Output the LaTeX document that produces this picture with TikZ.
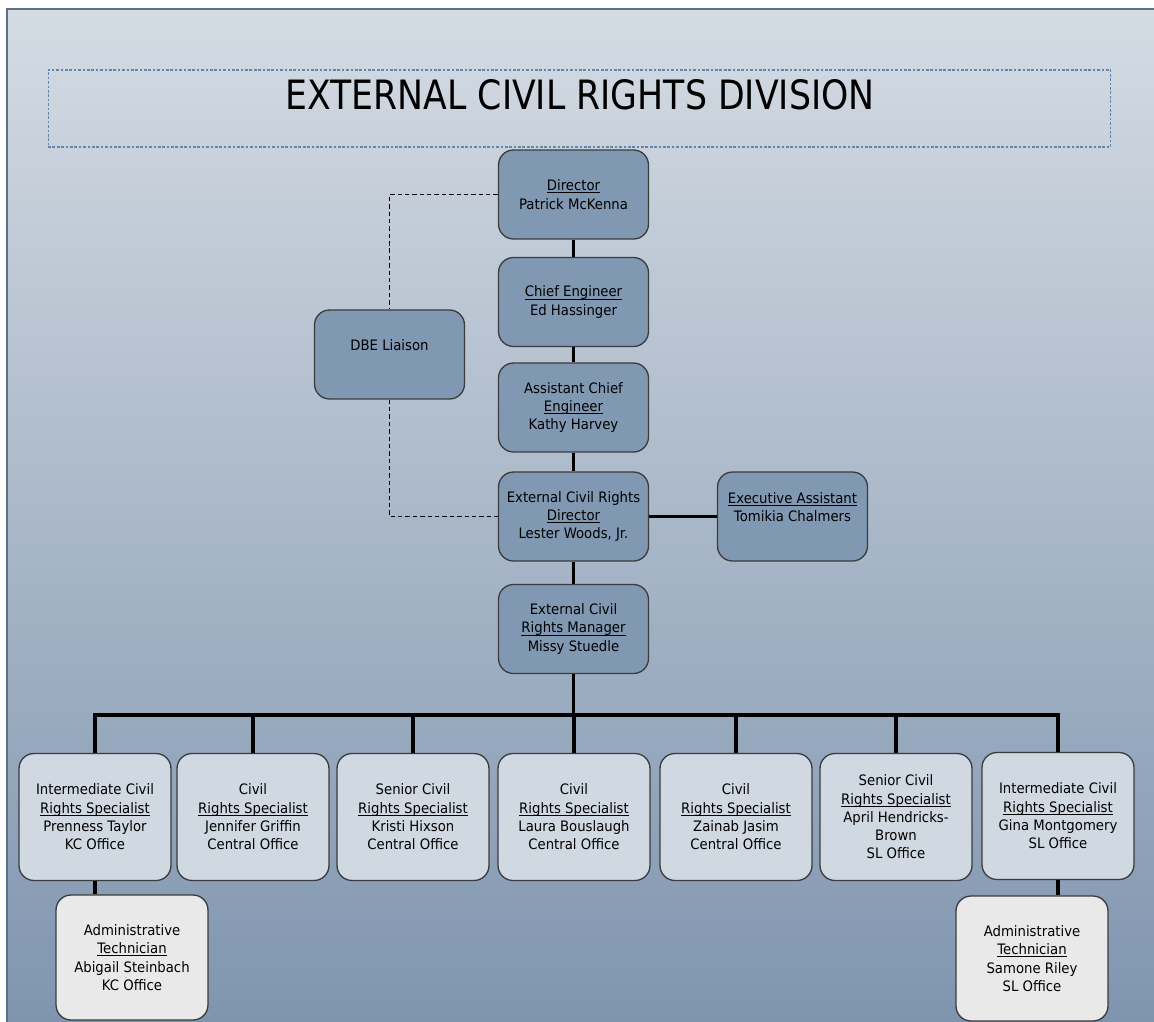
\documentclass[tikz,border=0pt]{standalone}
\usepackage{fontspec}
\setmainfont{DejaVu Sans}[FakeStretch=0.92]
\newfontfamily\titlefont{DejaVu Sans}
\usepackage{graphicx}

\definecolor{bgtop}{HTML}{D4DBE3}
\definecolor{bgmid}{HTML}{B3C0CF}
\definecolor{bgbot}{HTML}{7F95AF}
\definecolor{framecol}{HTML}{5D7286}
\definecolor{titleline}{HTML}{6286AE}
\definecolor{boxline}{HTML}{3C3C3C}
\definecolor{topfill}{HTML}{8098B2}
\definecolor{stafffill}{HTML}{D0D8E1}
\definecolor{adminfill}{HTML}{E9E9E9}

\newcommand\boxfont{\fontsize{8.2}{10.4}\selectfont}
\newcommand\ul[1]{\setbox0\hbox{#1}\rlap{\rule[-1.5pt]{\wd0}{0.55pt}}\box0}

\tikzset{
  box/.style={draw=boxline, line width=0.75pt, rounded corners=0.3cm,
    align=center, font=\boxfont, minimum width=3cm, inner sep=1pt},
  topbox/.style={box, fill=topfill, minimum height=1.78cm},
  staffbox/.style={box, fill=stafffill, minimum width=3.04cm, minimum height=2.54cm},
  adminbox/.style={box, fill=adminfill, minimum width=3.04cm, minimum height=2.5cm},
  titlebox/.style={draw=titleline, line width=0.6pt, dash pattern=on 1.5pt off 1pt,
    minimum width=21.26cm, minimum height=1.54cm, inner sep=0pt},
  link/.style={line width=2pt},
  dotlink/.style={dash pattern=on 2.5pt off 1.7pt, line width=0.55pt}
}

\begin{document}
\begin{tikzpicture}[x=0.02cm, y=-0.02cm]
  % Page and background
  \useasboundingbox (0,0) rectangle (1154,1022);
  \shade[top color=bgtop, middle color=bgmid, bottom color=bgbot] (7,9) rectangle (1154,1022);
  \draw[framecol, line width=0.9pt] (7,1022) -- (7,9) -- (1154,9);

  % Title
  \node[titlebox] (title) at (579.5,108.5) {};
  \node[inner sep=0pt] (titletext) at (580,95)
    {\resizebox{11.78cm}{0.6cm}{\titlefont EXTERNAL CIVIL RIGHTS DIVISION}};

  % Chain of command
  \node[topbox] (director) at (573.5,194.5) {\ul{Director}\\Patrick McKenna};
  \node[topbox] (chief) at (573.5,302) {\ul{Chief Engineer}\\Ed Hassinger};
  \node[topbox] (asst) at (573.5,407.5) {Assistant Chief\\\ul{Engineer}\\Kathy Harvey};
  \node[topbox] (ecrdir) at (573.5,516.5) {External Civil Rights\\\ul{Director}\\Lester Woods, Jr.};
  \node[topbox] (exec) at (792.5,516.5) {\ul{Executive Assistant}\\Tomikia Chalmers\\\mbox{}};
  \node[topbox] (manager) at (573.5,629) {External Civil\\\ul{Rights Manager}\\Missy Stuedle};
  \node[topbox] (dbe) at (389.5,354.5) {DBE Liaison\\\mbox{}};

  % Specialists
  \node[staffbox] (s1) at (95,817) {Intermediate Civil\\\ul{Rights Specialist}\\Prenness Taylor\\KC Office};
  \node[staffbox] (s2) at (253,817) {Civil\\\ul{Rights Specialist}\\Jennifer Griffin\\Central Office};
  \node[staffbox] (s3) at (413,817) {Senior Civil\\\ul{Rights Specialist}\\Kristi Hixson\\Central Office};
  \node[staffbox] (s4) at (574,817) {Civil\\\ul{Rights Specialist}\\Laura Bouslaugh\\Central Office};
  \node[staffbox] (s5) at (736,817) {Civil\\\ul{Rights Specialist}\\Zainab Jasim\\Central Office};
  \node[staffbox] (s6) at (896,817) {Senior Civil\\\ul{Rights Specialist}\\April Hendricks-\\Brown\\SL Office};
  \node[staffbox] (s7) at (1058,816) {Intermediate Civil\\\ul{Rights Specialist}\\Gina Montgomery\\SL Office};

  % Technicians
  \node[adminbox] (a1) at (132,957.5) {Administrative\\\ul{Technician}\\Abigail Steinbach\\KC Office};
  \node[adminbox] (a2) at (1032,958.5) {Administrative\\\ul{Technician}\\Samone Riley\\SL Office};

  % Solid links
  \draw[link] (director) -- (chief);
  \draw[link] (chief) -- (asst);
  \draw[link] (asst) -- (ecrdir);
  \draw[link] (ecrdir) -- (manager);
  \draw[link] (ecrdir) -- (exec);

  % Bus to the specialists
  \coordinate (bus) at (573.5,715);
  \draw[link] (manager) -- (bus);
  \draw[link] (s1.north) -- (s1.north |- bus) -- (s7.north |- bus) -- (s7.north);
  \foreach \i in {2,...,6}
    \draw[link] (s\i.north) -- (s\i.north |- bus);
  \draw[link] (s1.south) -- (s1.south |- a1.north);
  \draw[link] (s7.south) -- (s7.south |- a2.north);

  % Dashed liaison
  \draw[dotlink] (director.west) -| (dbe.north);
  \draw[dotlink] (dbe.south) |- (ecrdir.west);
\end{tikzpicture}
\end{document}
